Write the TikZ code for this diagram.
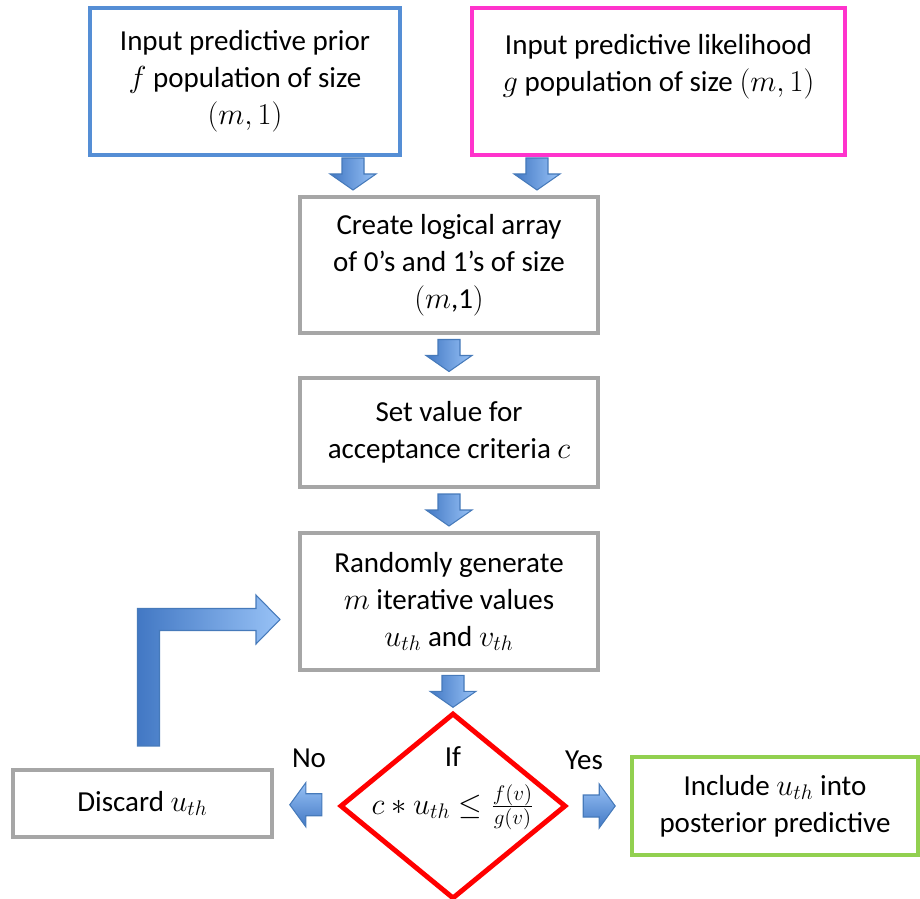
\documentclass[tikz,border=0pt]{standalone}
\usepackage{fontspec}
\setmainfont{Carlito}
\usetikzlibrary{shapes.geometric,calc}

\definecolor{boxgray}{RGB}{166,166,166}
\definecolor{priorblue}{RGB}{85,142,213}
\definecolor{likemag}{RGB}{255,51,204}
\definecolor{acceptgreen}{RGB}{146,208,80}
\definecolor{arrdark}{RGB}{66,120,196}
\definecolor{arrlight}{RGB}{152,194,246}
\definecolor{arrline}{RGB}{70,122,186}

\tikzset{
  box/.style={draw=boxgray, line width=2.3pt, fill=white, align=center, inner sep=0pt},
  decision/.style={diamond, draw=red, line width=2.8pt, inner sep=0pt},
  tag/.style={inner sep=1pt},
  blockarr/.style={draw=arrline, line width=0.6pt, left color=arrdark, right color=arrlight},
  sidearr/.style={draw=arrline, line width=0.6pt, top color=arrlight, bottom color=arrdark},
}

\newcommand{\blockdown}[1]{\draw[blockarr] (#1) ++(-11,-16) -- ++(22,0) -- ++(0,16) -- ++(12,0) -- ++(-23,16) -- ++(-23,-16) -- ++(12,0) -- cycle;}
\newcommand{\blockleft}[1]{\draw[sidearr] (#1) ++(16,-11) -- ++(0,22) -- ++(-16,0) -- ++(0,11) -- ++(-16,-22) -- ++(16,-22) -- ++(0,11) -- cycle;}
\newcommand{\blockright}[1]{\draw[sidearr] (#1) ++(-16,-11) -- ++(0,22) -- ++(16,0) -- ++(0,11) -- ++(16,-22) -- ++(-16,-22) -- ++(0,11) -- cycle;}

\begin{document}
\begin{tikzpicture}[x=0.02cm, y=-0.02cm, font=\fontsize{16.5}{21}\selectfont]
  \useasboundingbox (0,0) rectangle (920,899);

  % inputs
  \node[box, draw=priorblue, minimum width=6.2cm, minimum height=2.94cm] (prior) at (245,81.5)
    {Input predictive prior\\ $f$ population of size\\ $(m,1)$};
  \node[box, draw=likemag, minimum width=7.46cm, minimum height=2.94cm] (likely) at (658.5,81.5)
    {Input predictive likelihood\\ $g$ population of size $(m,1)$\\ \mbox{}};

  % main steps
  \node[box, minimum width=5.96cm, minimum height=2.72cm] (create) at (449,265)
    {Create logical array\\ of 0's and 1's of size\\ $(m$,1$)$};
  \node[box, minimum width=5.96cm, minimum height=2.18cm] (setval) at (449,432.5)
    {Set value for\\ acceptance criteria $c$};
  \node[box, minimum width=5.96cm, minimum height=2.74cm] (random) at (449,601.5)
    {Randomly generate\\ $m$ iterative values\\ $u_{th}$ and $v_{th}$};

  % decision
  \node[decision, minimum width=4.52cm, minimum height=3.72cm] (test) at (453,806) {};
  \node[tag] (iflbl) at (453,757) {If};
  \node[tag] (cond) at (453,807) {$c \ast u_{th} \leq \frac{f(v)}{g(v)}$};

  % outcomes
  \node[box, minimum width=5.18cm, minimum height=1.34cm] (discard) at (142.5,803.5) {Discard $u_{th}$};
  \node[box, draw=acceptgreen, minimum width=5.72cm, minimum height=1.96cm] (include) at (775,806)
    {Include $u_{th}$ into\\ posterior predictive};
  \node[tag] (nolbl) at (309,758) {No};
  \node[tag] (yeslbl) at (584,760) {Yes};

  % block arrows
  \blockdown{$(create.north west)+(55,-21)$}
  \blockdown{$(create.north east)+(-63,-21)$}
  \blockdown{$(create.south)!0.5!(setval.north)$}
  \blockdown{$(setval.south)!0.5!(random.north)$}
  \blockdown{$(random.south)!0.5!(test.north)+(2,0)$}
  \blockleft{$(discard.east)!0.5!(test.west)$}
  \blockright{$(test.east)!0.5!(include.west)$}

  % loop back
  \coordinate (lbot) at ($(discard.north)+(6,-22)$);
  \coordinate (ltip) at ($(random.west)+(-18,18)$);
  \draw[blockarr] let \p1=(lbot), \p2=(ltip) in
    (\x1-0.22cm,\y1) -- (\x1-0.22cm,\y2+0.22cm) -- (\x2-0.48cm,\y2+0.22cm)
    -- (\x2-0.48cm,\y2+0.49cm) -- (\x2,\y2) -- (\x2-0.48cm,\y2-0.49cm)
    -- (\x2-0.48cm,\y2-0.22cm) -- (\x1+0.22cm,\y2-0.22cm) -- (\x1+0.22cm,\y1) -- cycle;
\end{tikzpicture}
\end{document}
